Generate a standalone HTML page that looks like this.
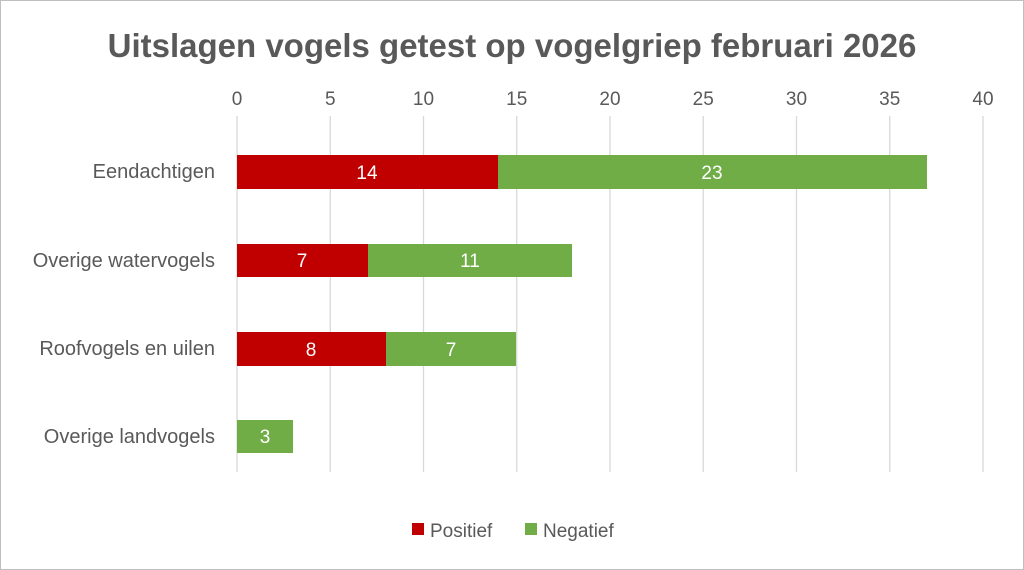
<!DOCTYPE html>
<html><head><style>
body{margin:0;background:#fff}
svg{display:block}
text{font-family:"Liberation Sans",sans-serif}
</style></head><body>
<svg width="1024" height="570" xmlns="http://www.w3.org/2000/svg">
<rect x="0.5" y="0.5" width="1023" height="569" fill="#fff" stroke="#bfbfbf"/>
<text x="512" y="57" text-anchor="middle" font-size="33" font-weight="bold" fill="#595959">Uitslagen vogels getest op vogelgriep februari 2026</text>
<g stroke="#d9d9d9" stroke-width="1.3">
<line x1="237" y1="116" x2="237" y2="472"/><line x1="330.25" y1="116" x2="330.25" y2="472"/>
<line x1="423.5" y1="116" x2="423.5" y2="472"/><line x1="516.75" y1="116" x2="516.75" y2="472"/>
<line x1="610" y1="116" x2="610" y2="472"/><line x1="703.25" y1="116" x2="703.25" y2="472"/>
<line x1="796.5" y1="116" x2="796.5" y2="472"/><line x1="889.75" y1="116" x2="889.75" y2="472"/>
<line x1="983" y1="116" x2="983" y2="472"/>
</g>
<g font-size="19" fill="#595959" text-anchor="middle">
<text x="237" y="105">0</text><text x="330.25" y="105">5</text><text x="423.5" y="105">10</text>
<text x="516.75" y="105">15</text><text x="610" y="105">20</text><text x="703.25" y="105">25</text>
<text x="796.5" y="105">30</text><text x="889.75" y="105">35</text><text x="983" y="105">40</text>
</g>
<g font-size="20" fill="#595959" text-anchor="end">
<text x="215" y="178">Eendachtigen</text>
<text x="215" y="267">Overige watervogels</text>
<text x="215" y="355">Roofvogels en uilen</text>
<text x="215" y="443">Overige landvogels</text>
</g>
<rect x="237" y="155" width="261" height="34" fill="#c00000"/>
<rect x="498" y="155" width="429" height="34" fill="#70ad47"/>
<rect x="237" y="244" width="131" height="33" fill="#c00000"/>
<rect x="368" y="244" width="204" height="33" fill="#70ad47"/>
<rect x="237" y="332" width="149" height="34" fill="#c00000"/>
<rect x="386" y="332" width="130" height="34" fill="#70ad47"/>
<rect x="237" y="420" width="56" height="33" fill="#70ad47"/>
<g font-size="19" fill="#fff" text-anchor="middle">
<text x="367" y="179">14</text><text x="712" y="179">23</text>
<text x="302" y="267">7</text><text x="470" y="267">11</text>
<text x="311" y="356">8</text><text x="451" y="356">7</text>
<text x="265" y="443">3</text>
</g>
<rect x="412" y="523" width="12" height="12" fill="#c00000"/>
<text x="430" y="537" font-size="19" fill="#595959">Positief</text>
<rect x="525" y="523" width="12" height="12" fill="#70ad47"/>
<text x="543" y="537" font-size="19" fill="#595959">Negatief</text>
</svg>
</body></html>
